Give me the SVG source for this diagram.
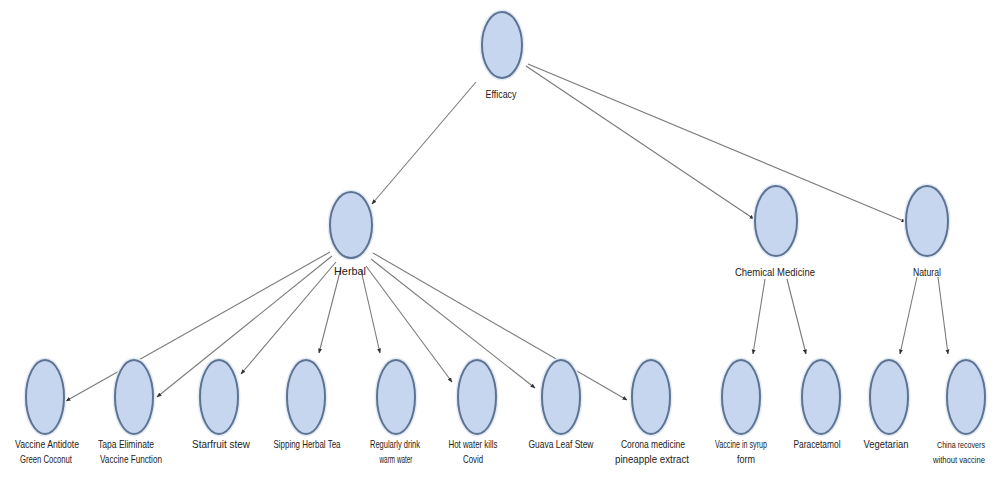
<svg xmlns="http://www.w3.org/2000/svg" width="997" height="477" viewBox="0 0 997 477">
<defs>
<marker id="arr" viewBox="0 0 10 10" refX="9" refY="5" markerWidth="5" markerHeight="5" orient="auto" markerUnits="userSpaceOnUse">
<path d="M0,1 L10,5 L0,9 z" fill="#333"/>
</marker>
<style>
.halo{fill:none;stroke:#e3ebf6;stroke-width:5}
.node{fill:#c6d6ef;stroke:#5d7391;stroke-width:2}
.lbl{font-family:"Liberation Sans",Arial,sans-serif;font-size:10.5px;fill:#222;text-anchor:middle}
.sm{font-size:9px;text-anchor:end}
.edge{stroke:#7a7a7a;stroke-width:1.1;fill:none;marker-end:url(#arr)}
</style>
</defs>
<rect width="997" height="477" fill="#fff"/>
<g id="edges">
<line class="edge" x1="476" y1="82" x2="372" y2="204"/>
<line class="edge" x1="526" y1="66" x2="754" y2="219"/>
<line class="edge" x1="528" y1="64" x2="906" y2="222"/>
<line class="edge" x1="330" y1="252" x2="66" y2="401"/>
<line class="edge" x1="332" y1="256" x2="157" y2="397"/>
<line class="edge" x1="336" y1="262" x2="241" y2="374"/>
<line class="edge" x1="341" y1="268" x2="319" y2="353"/>
<line class="edge" x1="361" y1="270" x2="380" y2="353"/>
<line class="edge" x1="366" y1="266" x2="452" y2="382"/>
<line class="edge" x1="371" y1="259" x2="535" y2="388"/>
<line class="edge" x1="373" y1="253" x2="627" y2="400"/>
<line class="edge" x1="765" y1="279" x2="753" y2="354"/>
<line class="edge" x1="787" y1="279" x2="806" y2="354"/>
<line class="edge" x1="917" y1="277" x2="900" y2="354"/>
<line class="edge" x1="938" y1="277" x2="948" y2="354"/>
</g>
<g id="efficacy">
<ellipse class="halo" cx="502" cy="45" rx="20" ry="33"/>
<ellipse class="node" cx="502" cy="45" rx="20" ry="33"/>
<text class="lbl" x="501" y="98" textLength="31" lengthAdjust="spacingAndGlyphs">Efficacy</text>
</g>
<g id="herbal">
<ellipse class="halo" cx="351" cy="225" rx="21" ry="33"/>
<ellipse class="node" cx="351" cy="225" rx="21" ry="33"/>
<text class="lbl" x="350" y="275" textLength="32" lengthAdjust="spacingAndGlyphs">Herbal</text>
</g>
<g id="chemical">
<ellipse class="halo" cx="776" cy="221" rx="21" ry="35"/>
<ellipse class="node" cx="776" cy="221" rx="21" ry="35"/>
<text class="lbl" x="775" y="276" textLength="80" lengthAdjust="spacingAndGlyphs">Chemical Medicine</text>
</g>
<g id="natural">
<ellipse class="halo" cx="927" cy="221" rx="21" ry="35"/>
<ellipse class="node" cx="927" cy="221" rx="21" ry="35"/>
<text class="lbl" x="927" y="276" textLength="28" lengthAdjust="spacingAndGlyphs">Natural</text>
</g>
<g id="n1">
<ellipse class="halo" cx="45" cy="397" rx="19" ry="37"/>
<ellipse class="node" cx="45" cy="397" rx="19" ry="37"/>
<text class="lbl" x="47" y="448" textLength="64" lengthAdjust="spacingAndGlyphs">Vaccine Antidote</text>
<text class="lbl" x="46" y="463" textLength="52" lengthAdjust="spacingAndGlyphs">Green Coconut</text>
</g>
<g id="n2">
<ellipse class="halo" cx="134" cy="397" rx="19" ry="37"/>
<ellipse class="node" cx="134" cy="397" rx="19" ry="37"/>
<text class="lbl" x="126" y="448" textLength="56" lengthAdjust="spacingAndGlyphs">Tapa Eliminate</text>
<text class="lbl" x="131" y="463" textLength="62" lengthAdjust="spacingAndGlyphs">Vaccine Function</text>
</g>
<g id="n3">
<ellipse class="halo" cx="219" cy="397" rx="19" ry="37"/>
<ellipse class="node" cx="219" cy="397" rx="19" ry="37"/>
<text class="lbl" x="221" y="448" textLength="58" lengthAdjust="spacingAndGlyphs">Starfruit stew</text>
</g>
<g id="n4">
<ellipse class="halo" cx="306" cy="397" rx="19" ry="37"/>
<ellipse class="node" cx="306" cy="397" rx="19" ry="37"/>
<text class="lbl" x="307" y="448" textLength="67" lengthAdjust="spacingAndGlyphs">Sipping Herbal Tea</text>
</g>
<g id="n5">
<ellipse class="halo" cx="396" cy="397" rx="19" ry="37"/>
<ellipse class="node" cx="396" cy="397" rx="19" ry="37"/>
<text class="lbl" x="395" y="448" textLength="50" lengthAdjust="spacingAndGlyphs">Regularly drink</text>
<text class="lbl" x="396" y="463" textLength="33" lengthAdjust="spacingAndGlyphs">warm water</text>
</g>
<g id="n6">
<ellipse class="halo" cx="477" cy="397" rx="19" ry="37"/>
<ellipse class="node" cx="477" cy="397" rx="19" ry="37"/>
<text class="lbl" x="473" y="448" textLength="49" lengthAdjust="spacingAndGlyphs">Hot water kills</text>
<text class="lbl" x="473" y="463" textLength="20" lengthAdjust="spacingAndGlyphs">Covid</text>
</g>
<g id="n7">
<ellipse class="halo" cx="561" cy="397" rx="19" ry="37"/>
<ellipse class="node" cx="561" cy="397" rx="19" ry="37"/>
<text class="lbl" x="561" y="448" textLength="65" lengthAdjust="spacingAndGlyphs">Guava Leaf Stew</text>
</g>
<g id="n8">
<ellipse class="halo" cx="651" cy="397" rx="19" ry="37"/>
<ellipse class="node" cx="651" cy="397" rx="19" ry="37"/>
<text class="lbl" x="653" y="448" textLength="64" lengthAdjust="spacingAndGlyphs">Corona medicine</text>
<text class="lbl" x="652" y="463" textLength="74" lengthAdjust="spacingAndGlyphs">pineapple extract</text>
</g>
<g id="n9">
<ellipse class="halo" cx="741" cy="397" rx="19" ry="37"/>
<ellipse class="node" cx="741" cy="397" rx="19" ry="37"/>
<text class="lbl" x="741" y="448" textLength="52" lengthAdjust="spacingAndGlyphs">Vaccine in syrup</text>
<text class="lbl" x="746" y="463" textLength="18" lengthAdjust="spacingAndGlyphs">form</text>
</g>
<g id="n10">
<ellipse class="halo" cx="821" cy="397" rx="19" ry="37"/>
<ellipse class="node" cx="821" cy="397" rx="19" ry="37"/>
<text class="lbl" x="817" y="448" textLength="47" lengthAdjust="spacingAndGlyphs">Paracetamol</text>
</g>
<g id="n11">
<ellipse class="halo" cx="889" cy="397" rx="19" ry="37"/>
<ellipse class="node" cx="889" cy="397" rx="19" ry="37"/>
<text class="lbl" x="886" y="448" textLength="45" lengthAdjust="spacingAndGlyphs">Vegetarian</text>
</g>
<g id="n12">
<ellipse class="halo" cx="966" cy="397" rx="19" ry="37"/>
<ellipse class="node" cx="966" cy="397" rx="19" ry="37"/>
<text class="lbl sm" x="985" y="448" textLength="48" lengthAdjust="spacingAndGlyphs">China recovers</text>
<text class="lbl sm" x="985" y="463" textLength="52" lengthAdjust="spacingAndGlyphs">without vaccine</text>
</g>
</svg>
